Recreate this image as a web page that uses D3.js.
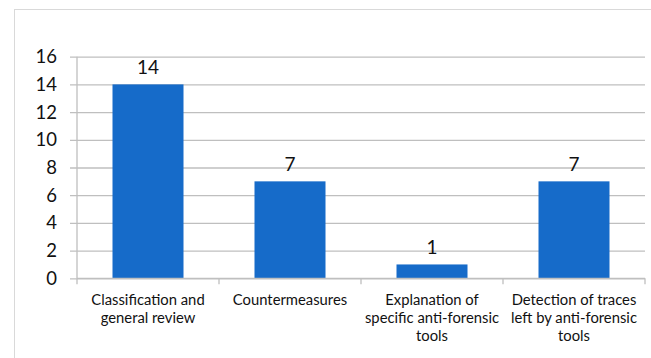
<!DOCTYPE html>
<html>
<head>
<meta charset="utf-8">
<script src="https://cdn.jsdelivr.net/npm/d3@7/dist/d3.min.js"></script>
<style>
  html, body { margin: 0; padding: 0; background: #fff; }
  svg { display: block; }
  text { font-family: Lato, "Noto Sans", sans-serif; fill: #111; }
</style>
</head>
<body>
<svg id="chart" width="651" height="358"></svg>
<script>
// Number of publications per anti-forensics research topic
const categories = [
  ["Classification and", "general review"],
  ["Countermeasures"],
  ["Explanation of", "specific anti-forensic", "tools"],
  ["Detection of traces", "left by anti-forensic", "tools"]
];
const values = [14, 7, 1, 7];
const yTicks = [0, 2, 4, 6, 8, 10, 12, 14, 16];

const W = 651, H = 358;
const plot = { left: 77, right: 645, top: 56.7, bottom: 278.3 };

const svg = d3.select("#chart");

// outer chart frame
svg.append("rect")
  .attr("x", 14.5).attr("y", 9.5)
  .attr("width", W + 10).attr("height", H + 10)
  .attr("fill", "none").attr("stroke", "#d9d9d9").attr("stroke-width", 1);

const x = d3.scaleBand()
  .domain(d3.range(categories.length))
  .range([plot.left, plot.right])
  .paddingInner(0.5).paddingOuter(0.25);

const y = d3.scaleLinear().domain([0, 16]).range([plot.bottom, plot.top]);

// horizontal gridlines with small left ticks
const yAxis = d3.axisLeft(y).tickValues(yTicks).tickSize(7).tickPadding(13).tickFormat(d3.format("d"));
const gy = svg.append("g").attr("transform", `translate(${plot.left},0)`).call(yAxis);
gy.select(".domain").attr("stroke", "#bfbfbf").attr("stroke-width", 1.3)
  .attr("d", `M0,${plot.top}V${plot.bottom}`);
gy.selectAll(".tick line").attr("stroke", "#bfbfbf").attr("stroke-width", 1.3)
  .attr("x1", -7).attr("x2", plot.right - plot.left);
gy.selectAll(".tick text").style("font-size", "18.5px").attr("fill", "#111");

// bars
svg.append("g").selectAll("rect")
  .data(values)
  .join("rect")
  .attr("x", (d, i) => x(i))
  .attr("width", x.bandwidth())
  .attr("y", d => y(d))
  .attr("height", d => y(0) - y(d))
  .attr("fill", "#166bc9");

// value labels above bars
svg.append("g").selectAll("text")
  .data(values)
  .join("text")
  .attr("x", (d, i) => x(i) + x.bandwidth() / 2)
  .attr("y", d => y(d) - 10)
  .attr("text-anchor", "middle")
  .style("font-size", "19px")
  .text(d => d);

// category axis with boundary ticks
const bounds = d3.range(categories.length + 1).map(i => plot.left + i * (plot.right - plot.left) / categories.length);
const gx = svg.append("g");
gx.append("line")
  .attr("x1", plot.left).attr("x2", plot.right)
  .attr("y1", plot.bottom).attr("y2", plot.bottom)
  .attr("stroke", "#bfbfbf").attr("stroke-width", 1.3);
gx.selectAll("line.tk")
  .data(bounds)
  .join("line")
  .attr("class", "tk")
  .attr("x1", d => d).attr("x2", d => d)
  .attr("y1", plot.bottom).attr("y2", plot.bottom + 6)
  .attr("stroke", "#bfbfbf").attr("stroke-width", 1.3);

const labels = gx.selectAll("text.cat")
  .data(categories)
  .join("text")
  .attr("class", "cat")
  .attr("text-anchor", "middle")
  .attr("x", (d, i) => x(i) + x.bandwidth() / 2)
  .attr("y", 305)
  .style("font-size", "14.8px");
labels.selectAll("tspan")
  .data(d => d)
  .join("tspan")
  .attr("x", function () { return this.parentNode.getAttribute("x"); })
  .attr("dy", (d, i) => i === 0 ? 0 : 18)
  .text(d => d);
</script>
</body>
</html>
